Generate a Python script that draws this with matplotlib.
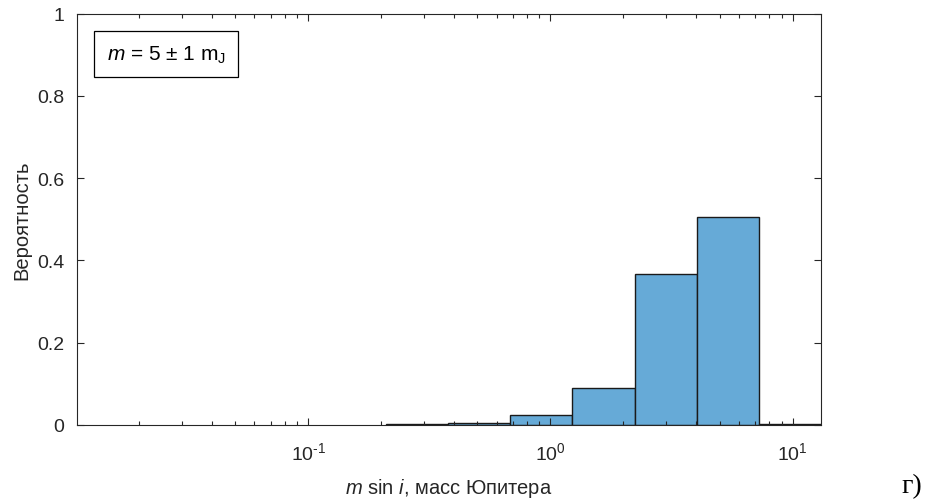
import matplotlib
matplotlib.use('Agg')
import matplotlib.pyplot as plt
from matplotlib.ticker import LogLocator, FixedLocator, FormatStrFormatter, NullFormatter
import numpy as np

# Данные гистограммы (границы бинов в массах Юпитера, вероятности)
bin_edges = [0.209, 0.378, 0.68, 1.23, 2.23, 4.02, 7.28, 13.1]
probabilities = [0.0025, 0.006, 0.024, 0.089, 0.367, 0.505, 0.0025]
y_ticks = [0, 0.2, 0.4, 0.6, 0.8, 1]
x_major = [0.1, 1, 10]

plt.rcParams['font.family'] = ['Liberation Sans', 'DejaVu Sans']
plt.rcParams['mathtext.fontset'] = 'custom'
plt.rcParams['mathtext.rm'] = 'Liberation Sans'
plt.rcParams['mathtext.it'] = 'Liberation Sans:italic'

ink = '#262626'
fig = plt.figure(figsize=(9.4, 5.02), dpi=100)
ax = fig.add_axes([0.0819, 0.1514, 0.7915, 0.8193])

left = np.array(bin_edges[:-1])
widths = np.diff(bin_edges)
ax.bar(left, probabilities, width=widths, align='edge',
       color='#66AAD7', edgecolor='#1a1a1a', linewidth=1.0)

ax.set_xscale('log')
ax.set_xlim(0.0111, 13.1)
ax.set_ylim(0, 1)

ax.xaxis.set_major_locator(FixedLocator(x_major))
ax.set_xticklabels([r'$10^{\text{-1}}$', r'$10^{0}$', r'$10^{1}$'], fontsize=14.5)
ax.xaxis.set_minor_locator(LogLocator(base=10, subs=np.arange(2, 10)))
ax.xaxis.set_minor_formatter(NullFormatter())
ax.set_yticks(y_ticks)
ax.yaxis.set_major_formatter(FormatStrFormatter('%g'))

ax.tick_params(which='both', direction='in', top=True, right=True,
               colors=ink, labelsize=14, width=0.8)
ax.tick_params(which='major', length=5)
ax.tick_params(axis='x', which='major', pad=12)
ax.tick_params(axis='y', which='major', pad=9)
ax.tick_params(which='minor', length=3)
for s in ax.spines.values():
    s.set_color(ink)
    s.set_linewidth(0.8)

ax.set_xlabel(r'$m$ sin $i$, масс Юпитера', fontsize=14.5, color=ink, labelpad=9)
ax.set_ylabel('Вероятность', fontsize=14.5, color=ink, labelpad=4)

ax.text(0.04, 0.902, r'$m$ = 5 ± 1 m$_{\mathrm{J}}$', transform=ax.transAxes,
        fontsize=15, color='black', va='center', ha='left',
        bbox=dict(boxstyle='square,pad=0.6', facecolor='white', edgecolor='black', linewidth=0.9))

fig.text(0.97, 0.03, 'г)', fontsize=20, family='Liberation Serif', ha='center', va='center')

fig.savefig('out.png', dpi=100)
